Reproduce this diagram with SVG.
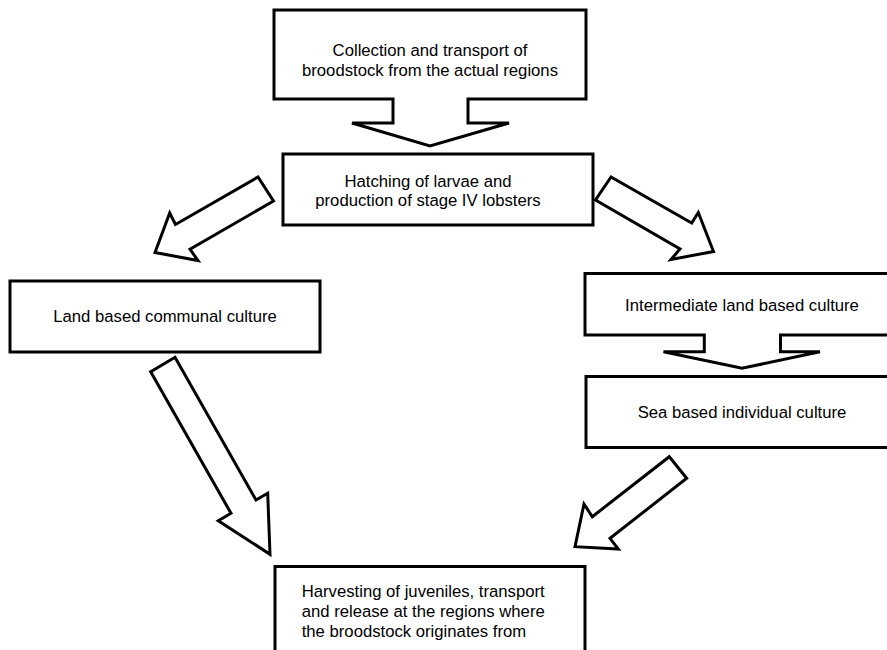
<svg xmlns="http://www.w3.org/2000/svg" width="887" height="650" viewBox="0 0 887 650">
<style>
.shape{fill:#fff;stroke:#000;stroke-width:3;stroke-linejoin:miter}
.arrow{fill:#fff;stroke:#000;stroke-width:3;stroke-linejoin:miter}
text{font-family:"Liberation Sans",Arial,sans-serif;font-size:16.7px;fill:#000}
.c{text-anchor:middle}
</style>
<rect width="887" height="650" fill="#fff"/>
<g id="connectors">
<polygon class="arrow" points="258,177 273.5,201 190,249.3 198,260.5 155,252.5 169.7,213 175.5,224.5"/>
<polygon class="arrow" points="611,177 595.5,200 680,249 671,259.5 713.5,251.5 698.3,212.5 691.7,223"/>
<polygon class="arrow" points="150.7,371.7 175,357.3 256,500 267.7,493.3 270,554.3 218.3,520.7 231,513.3"/>
<polygon class="arrow" points="669.3,456.7 686.7,478.3 610,538.3 618.3,549 575,546.7 584,504 592.3,516.7"/>
</g>
<g id="collection">
<polygon class="shape" points="274,10 586,10 586,99 468,99 468,123 509,123 430,146 352,123 393,123 393,99 274,99"/>
<text class="c" x="430" y="56">Collection and transport of</text>
<text class="c" x="430" y="76">broodstock from the actual regions</text>
</g>
<g id="hatching">
<rect class="shape" x="283" y="154" width="310" height="71"/>
<text class="c" x="428" y="187">Hatching of larvae and</text>
<text class="c" x="428" y="206">production of stage IV lobsters</text>
</g>
<g id="land">
<rect class="shape" x="10" y="281" width="310" height="71"/>
<text class="c" x="165" y="322">Land based communal culture</text>
</g>
<g id="intermediate">
<polygon class="shape" points="585,273.5 898,273.5 898,335 780.5,335 780.5,351.7 820,351.7 742,368.3 663.5,351.7 704.3,351.7 704.3,335 585,335"/>
<text class="c" x="742" y="311">Intermediate land based culture</text>
</g>
<g id="sea">
<rect class="shape" x="586" y="376.5" width="312" height="71"/>
<text class="c" x="742" y="418">Sea based individual culture</text>
</g>
<g id="harvesting">
<rect class="shape" x="275" y="566.5" width="310" height="100"/>
<text x="301.7" y="597">Harvesting of juveniles, transport</text>
<text x="301.7" y="617">and release at the regions where</text>
<text x="301.7" y="637">the broodstock originates from</text>
</g>
</svg>
